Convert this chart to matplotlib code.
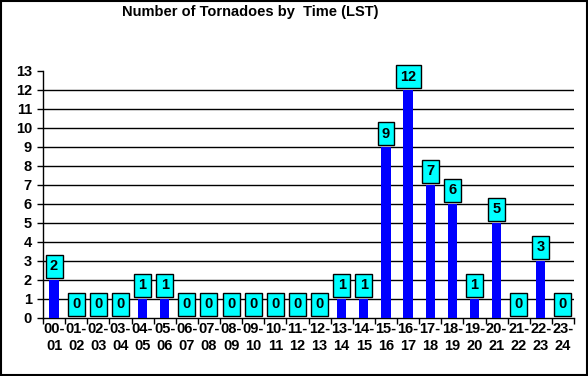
import matplotlib.pyplot as plt
from matplotlib.patches import Rectangle

plt.rcParams['font.family'] = ['Liberation Sans', 'DejaVu Sans']

hours = ["00-\n01", "01-\n02", "02-\n03", "03-\n04", "04-\n05", "05-\n06",
         "06-\n07", "07-\n08", "08-\n09", "09-\n10", "10-\n11", "11-\n12",
         "12-\n13", "13-\n14", "14-\n15", "15-\n16", "16-\n17", "17-\n18",
         "18-\n19", "19-\n20", "20-\n21", "21-\n22", "22-\n23", "23-\n24"]
counts = [2, 0, 0, 0, 1, 1, 0, 0, 0, 0, 0, 0, 0, 1, 1, 9, 12, 7, 6, 1, 5, 0, 3, 0]
yticks = list(range(0, 14))

fig = plt.figure(figsize=(5.88, 3.76), dpi=100)
ax = fig.add_axes([43 / 588, 1 - 317.5 / 376, (574 - 43) / 588, (317.5 - 71) / 376])

x = list(range(len(counts)))
ax.bar(x, counts, width=0.42, color='#0000ff', zorder=3)

for xi, v in zip(x, counts):
    ax.text(xi, v + 0.7, str(v), ha='center', va='center', fontsize=10.5,
            fontweight='bold', zorder=5,
            bbox=dict(boxstyle='square,pad=0.3', fc='#00ffff', ec='black', lw=1))

ax.set_xlim(-0.5, len(counts) - 0.5)
ax.set_ylim(0, 13)
ax.set_yticks(yticks)
ax.set_yticklabels([str(t) for t in yticks], fontsize=10.5, fontweight='bold')
for t in yticks[1:-1]:
    ax.axhline(t, color='black', lw=1, zorder=1)

# category labels centred, tick marks between categories
ax.set_xticks(x)
ax.set_xticklabels(hours, fontsize=10.5, fontweight='bold', linespacing=1.3)
ax.tick_params(axis='x', length=0, pad=3)
ax.set_xticks([i - 0.5 for i in range(len(counts) + 1)], minor=True)
ax.tick_params(axis='x', which='minor', direction='out', length=4, width=1, color='black')
ax.tick_params(axis='y', direction='out', length=4, width=1, pad=4)

ax.spines['top'].set_visible(False)
ax.spines['right'].set_visible(False)
ax.spines['left'].set_linewidth(1)
ax.spines['bottom'].set_linewidth(1)

fig.text(250 / 588, 1 - 12 / 376, "Number of Tornadoes by  Time (LST)",
         ha='center', va='center', fontsize=10.5, fontweight='bold')

fig.patches.append(Rectangle((0.001, 0.002), 0.997, 0.996, transform=fig.transFigure,
                             fill=False, ec='black', lw=1.5))

fig.savefig('out.png', dpi=100)
